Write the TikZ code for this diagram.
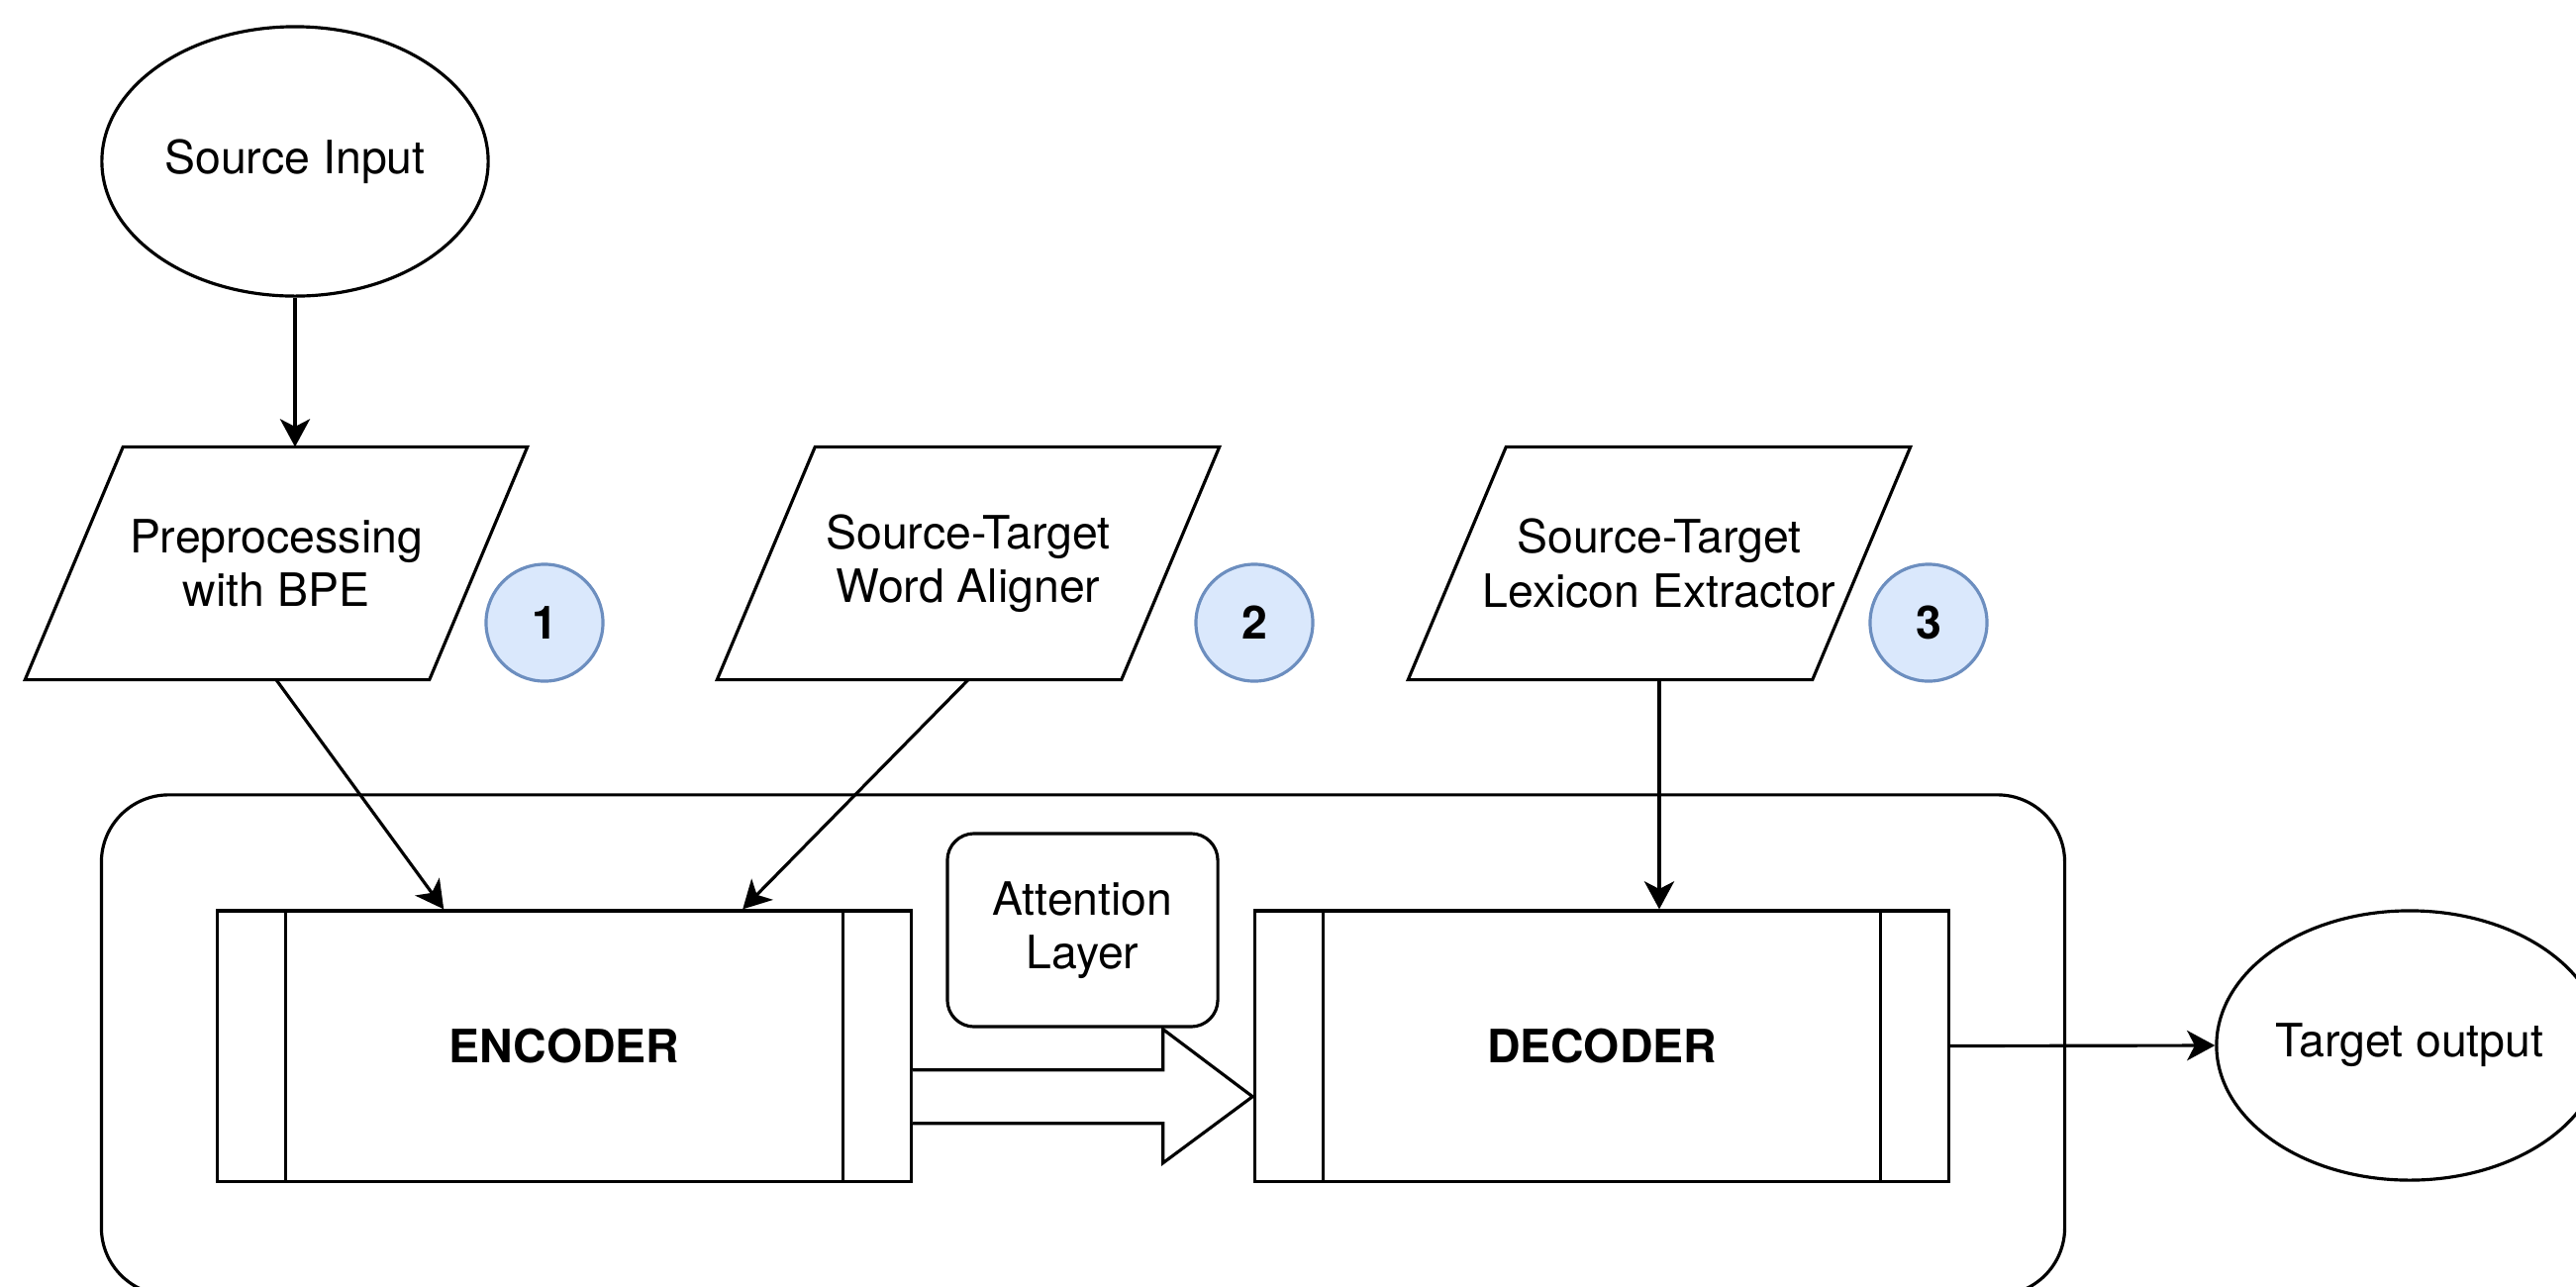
\documentclass[tikz,border=0pt]{standalone}
\usepackage{fontspec}
\setmainfont{TeX Gyre Heros}
\usetikzlibrary{shapes.geometric,arrows.meta,calc}
\definecolor{cfill}{HTML}{DAE8FC}
\definecolor{cdraw}{HTML}{6C8EBF}
\begin{document}
\begin{tikzpicture}[x=0.01cm,y=-0.01cm,line width=0.9pt,
  font=\fontsize{13.2pt}{15.4pt}\selectfont,
  arr/.style={-{Stealth[length=8pt,width=8.6pt,inset=2.2pt]}},
  oval/.style={ellipse,draw,minimum width=3.9cm,minimum height=2.72cm,inner sep=0pt},
  parabox/.style={rectangle,minimum width=5.04cm,minimum height=2.32cm,inner sep=0pt,align=center},
  numcirc/.style={circle,draw=cdraw,fill=cfill,minimum size=1.18cm,inner sep=0pt,font=\fontsize{13.2pt}{15.4pt}\selectfont\bfseries},
  codec/.style={rectangle,draw,minimum width=7.0cm,minimum height=2.73cm,inner sep=0pt,font=\fontsize{13.2pt}{15.4pt}\selectfont\bfseries},
  attn/.style={rectangle,draw,fill=white,rounded corners=0.27cm,minimum width=2.73cm,minimum height=1.95cm,inner sep=0pt,align=center},
  container/.style={rectangle,draw,rounded corners=0.68cm,minimum width=19.82cm,minimum height=5.05cm,inner sep=0pt}
]
\useasboundingbox (0,0) rectangle (2602,1299);
\clip (0,0) rectangle (2602,1299);

% container
\node[container] (box) at (1094,1055.5) {};

% top row
\node[oval] (src) at (298,163) {Source Input};

\node[parabox] (p1) at (279,569) {Preprocessing\\with BPE};
\node[parabox] (p2) at (978,569) {Source-Target\\Word Aligner};
\node[parabox] (p3) at (1676,569) {Source-Target\\Lexicon Extractor};
\foreach \p in {p1,p2,p3}{
  \draw ($(\p.north west)+(99,0)$) -- (\p.north east) -- ($(\p.south east)+(-99,0)$) -- (\p.south west) -- cycle;
}

\node[numcirc] (c1) at (550,629) {1};
\node[numcirc] (c2) at (1267,629) {2};
\node[numcirc] (c3) at (1948,629) {3};

% encoder / decoder
\node[codec] (enc) at (570,1056.5) {ENCODER};
\node[codec] (dec) at (1618,1056.5) {DECODER};
\foreach \b in {enc,dec}{
  \draw ($(\b.north west)+(70,0)$) -- ($(\b.south west)+(70,0)$);
  \draw ($(\b.north east)+(-70,0)$) -- ($(\b.south east)+(-70,0)$);
}

% attention layer
\node[attn] (att) at (1093.5,939.5) {Attention\\Layer};

% block arrow
\draw[fill=white] ($(enc.south east)+(0,-114)$) -- ($(enc.south east)+(253,-114)$)
  -- ($(enc.south east)+(253,-155)$) -- ($(dec.south west)+(-1,-87)$)
  -- ($(enc.south east)+(253,-20)$) -- ($(enc.south east)+(253,-60)$)
  -- ($(enc.south east)+(0,-60)$);

% target
\node[oval] (tgt) at (2434,1056) {Target output};

% connectors
\draw[arr] (src.south) -- (src.south |- p1.north);
\draw[arr] (p1.south) -- ($(enc.north west)+(230,0)$);
\draw[arr] (p2.south) -- ($(enc.north west)+(532,0)$);
\draw[arr] (p3.south) -- (p3.south |- dec.north);
\draw[arr] (dec.east) -- (tgt.west);
\end{tikzpicture}
\end{document}
